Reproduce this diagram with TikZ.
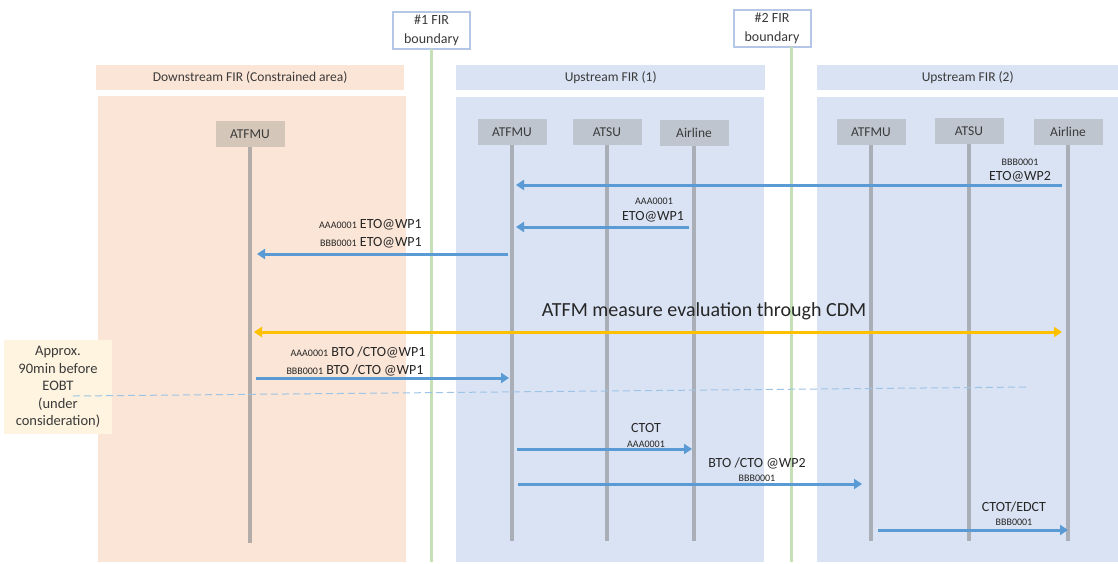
\documentclass[tikz,border=0pt]{standalone}
\usepackage{fontspec}
\setmainfont{Carlito}
\usetikzlibrary{arrows.meta}

\definecolor{peach}{HTML}{FBE5D6}
\definecolor{paleblue}{HTML}{DAE3F3}
\definecolor{boxgray}{HTML}{BFC5CF}
\definecolor{boxtan}{HTML}{D5C6BA}
\definecolor{lifegray}{HTML}{AAAFB7}
\definecolor{lifetan}{HTML}{B4ACA8}
\definecolor{firgreen}{HTML}{C5E0B4}
\definecolor{firframe}{HTML}{B4C7E7}
\definecolor{msgblue}{HTML}{5B9BD5}
\definecolor{cdmorange}{HTML}{FFC000}
\definecolor{timeblue}{HTML}{9DC3E6}
\definecolor{notecream}{HTML}{FEF4E0}
\definecolor{ink}{HTML}{262626}
\definecolor{boxink}{HTML}{3A3A3A}

\newcommand{\tagsz}{\fontsize{10}{11}\selectfont}

\begin{document}
\begin{tikzpicture}[x=1pt,y=-1pt,
  font=\fontsize{14}{16}\selectfont, text=ink,
  area/.style={fill=#1, draw=none, inner sep=0pt, anchor=north west, text=boxink,
    font=\fontsize{13.5}{16}\selectfont},
  firbox/.style={draw=firframe, line width=2pt, fill=white, minimum width=77pt,
    minimum height=37pt, align=center, inner sep=0pt, font=\fontsize{14}{19}\selectfont, text=boxink},
  actor/.style={fill=#1, minimum width=69pt, minimum height=26pt, inner sep=0pt, text=boxink,
    font=\fontsize{13.5}{16}\selectfont},
  life/.style={draw=#1, line width=4pt},
  firline/.style={draw=firgreen, line width=3pt},
  msg/.style={draw=msgblue, line width=3pt, -{Triangle[length=8pt,width=10pt]}},
  cdm/.style={draw=cdmorange, line width=3pt, {Triangle[length=8pt,width=10pt]}-{Triangle[length=8pt,width=10pt]}},
  lbl/.style={inner sep=0pt},
  tag/.style={inner sep=0pt, font=\tagsz},
  note/.style={fill=notecream, minimum width=108pt, minimum height=94pt, inner sep=0pt,
    align=center, font=\fontsize{14.5}{17.6}\selectfont, text=boxink},
  timeline/.style={draw=timeblue, line width=1pt, dash pattern=on 7pt off 4pt}]

\useasboundingbox (0,0) rectangle (1118,563);

% FIR areas: header strips and bodies
\node[area=peach, minimum width=308pt, minimum height=25pt] (dhead) at (96,65) {Downstream FIR (Constrained area)};
\node[area=peach, minimum width=308pt, minimum height=466pt] (dbody) at (98,96) {};
\node[area=paleblue, minimum width=309pt, minimum height=25pt] (uahead) at (456,65) {Upstream FIR (1)};
\node[area=paleblue, minimum width=308pt, minimum height=465pt] (uabody) at (456,97) {};
\node[area=paleblue, minimum width=301pt, minimum height=25pt] (ubhead) at (817,65) {Upstream FIR (2)};
\node[area=paleblue, minimum width=301pt, minimum height=465pt] (ubbody) at (817,97) {};

% FIR boundaries
\node[firbox] (fir1) at (431.5,30.5) {\#1 FIR\\boundary};
\node[firbox] (fir2) at (772,28) {\#2 FIR\\boundary};
\coordinate (g1top) at (431.5,49);
\coordinate (g1end) at (431.5,562);
\coordinate (g2top) at (791,47);
\coordinate (g2end) at (791,562);
\draw[firline] (g1top) -- (g1end);
\draw[firline] (g2top) -- (g2end);

% actors
\node[actor=boxtan] (dA) at (250,134) {ATFMU};
\node[actor=boxgray] (uA1) at (512,132) {ATFMU};
\node[actor=boxgray] (uS1) at (607,132) {ATSU};
\node[actor=boxgray] (uL1) at (694,132.5) {Airline};
\node[actor=boxgray] (uA2) at (871,132) {ATFMU};
\node[actor=boxgray] (uS2) at (969,131) {ATSU};
\node[actor=boxgray] (uL2) at (1068,132) {Airline};

% lifelines
\coordinate (dAend) at (dA |- 0,543);
\draw[life=lifetan] (dA.south) -- (dAend);
\foreach \a in {uA1,uS1,uL1,uA2,uS2,uL2}{
  \coordinate (\a end) at (\a |- 0,541);
  \draw[life=lifegray] (\a.south) -- (\a end);
}

% messages
\draw[msg] ([xshift=-6pt]uL2 |- 0,185) -- ([xshift=4pt]uA1 |- 0,185);
\node[tag] (m1a) at (1020,162) {BBB0001};
\node[lbl] (m1b) at (1020,177) {ETO@WP2};

\draw[msg] ([xshift=-5pt]uL1 |- 0,227) -- ([xshift=4pt]uA1 |- 0,227);
\node[tag] (m2a) at (654,201) {AAA0001};
\node[lbl] (m2b) at (653,217) {ETO@WP1};

\draw[msg] ([xshift=-4pt]uA1 |- 0,254) -- ([xshift=7pt]dA |- 0,254);
\node[lbl, anchor=east] (m3a) at (422,225) {{\tagsz AAA0001} ETO@WP1};
\node[lbl, anchor=east] (m3b) at (422,243) {{\tagsz BBB0001} ETO@WP1};

\draw[cdm] ([xshift=4pt]dA |- 0,332) -- ([xshift=-6pt]uL2 |- 0,332);
\node[lbl, font=\fontsize{20}{23}\selectfont] (cdmtext) at (704,311) {ATFM measure evaluation through CDM};

\draw[msg] ([xshift=6pt]dA |- 0,378) -- ([xshift=-3pt]uA1 |- 0,378);
\node[lbl] (m5a) at (358,352) {{\tagsz AAA0001} BTO /CTO@WP1};
\node[lbl] (m5b) at (355,370) {{\tagsz BBB0001} BTO /CTO @WP1};

\draw[msg] ([xshift=5pt]uA1 |- 0,449) -- ([xshift=-2pt]uL1 |- 0,449);
\node[lbl] (m6a) at (646,428) {CTOT};
\node[tag] (m6b) at (646,444) {AAA0001};

\draw[msg] ([xshift=6pt]uA1 |- 0,484) -- ([xshift=-9pt]uA2 |- 0,484);
\node[lbl] (m7a) at (757,463) {BTO /CTO @WP2};
\node[tag] (m7b) at (757,478) {BBB0001};

\draw[msg] ([xshift=7pt]uA2 |- 0,530) -- ([xshift=0pt]uL2 |- 0,530);
\node[lbl] (m8a) at (1014,507) {CTOT/EDCT};
\node[tag] (m8b) at (1014,522) {BBB0001};

% time marker
\node[note] (note) at (58,387) {Approx.\\90min before\\EOBT\\(under\\consideration)};
\coordinate (t0) at (73,396);
\coordinate (t1) at (1028,387);
\draw[timeline] (t0) -- (t1);

\end{tikzpicture}
\end{document}
